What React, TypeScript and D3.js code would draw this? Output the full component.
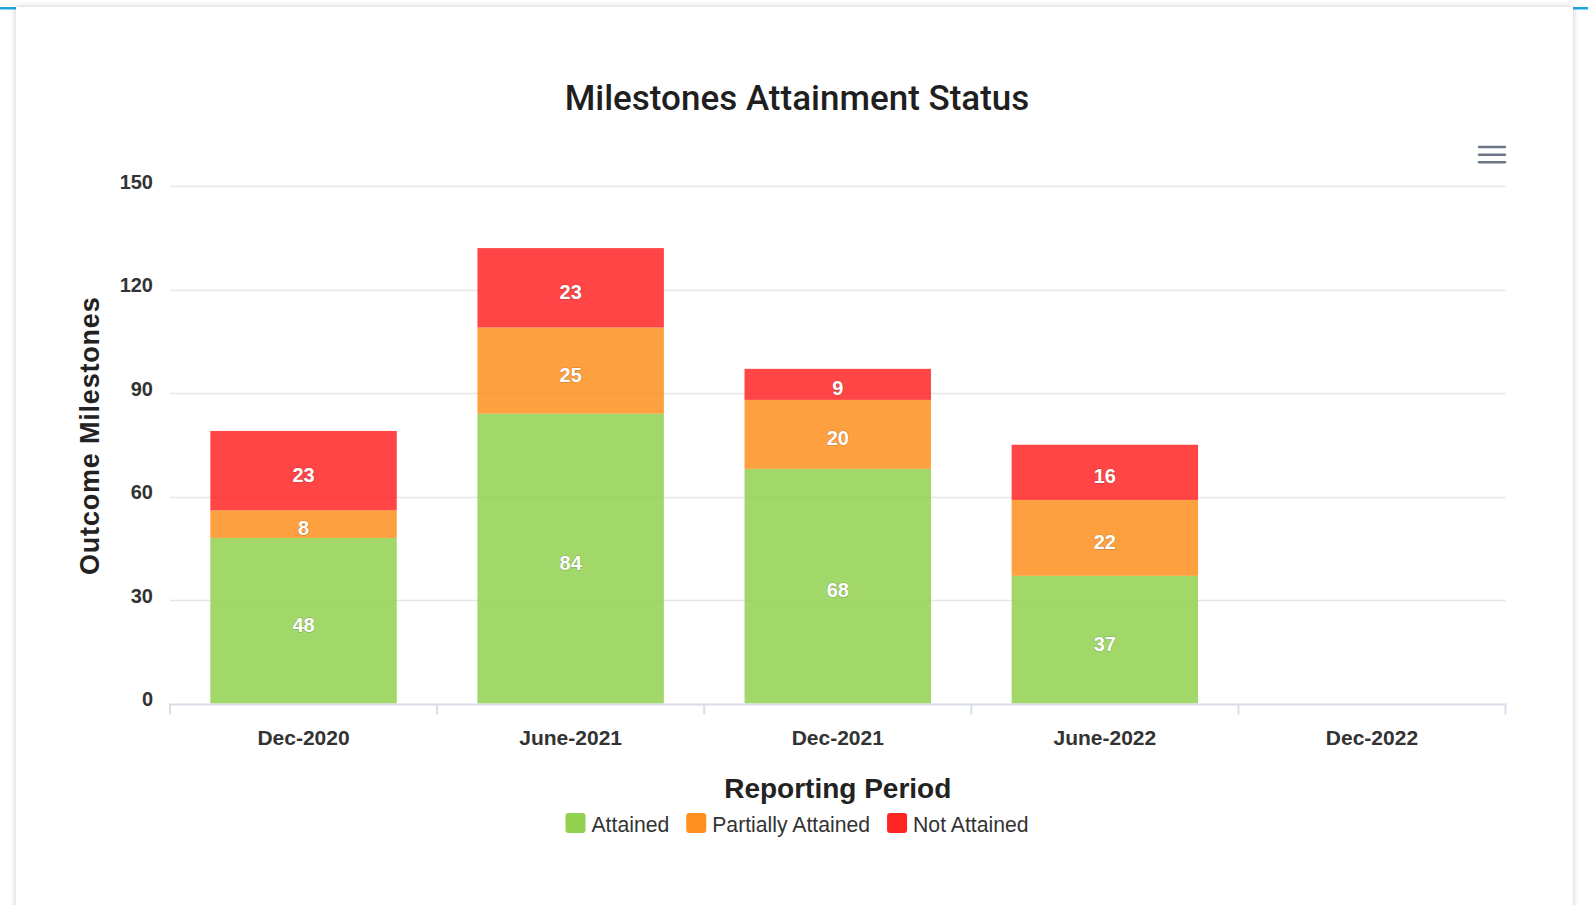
import React, { useEffect, useRef } from "react";
import * as d3 from "d3";

const categories = ["Dec-2020", "June-2021", "Dec-2021", "June-2022", "Dec-2022"];
const attained = [48, 84, 68, 37, null];
const partiallyAttained = [8, 25, 20, 22, null];
const notAttained = [23, 23, 9, 16, null];
const seriesNames = ["Attained", "Partially Attained", "Not Attained"];
const seriesColors = ["#92d050", "#ff8f1e", "#ff2424"];
const yTicks = [0, 30, 60, 90, 120, 150];

const W = 1588;
const H = 905;

export default function App() {
  const ref = useRef<SVGSVGElement | null>(null);

  useEffect(() => {
    const svg = d3.select(ref.current);
    svg.selectAll("*").remove();

    const defs = svg.append("defs");
    const f = defs.append("filter").attr("id", "shadow").attr("x", "-5%").attr("y", "-5%").attr("width", "110%").attr("height", "110%");
    f.append("feDropShadow").attr("dx", 0).attr("dy", 0).attr("stdDeviation", 3).attr("flood-color", "#000").attr("flood-opacity", 0.22);

    // blue lines
    svg.append("rect").attr("x", 0).attr("y", 7).attr("width", 20).attr("height", 2.5).attr("fill", "#1aa7e0");
    svg.append("rect").attr("x", 1568).attr("y", 7).attr("width", 20).attr("height", 2.5).attr("fill", "#1aa7e0");

    // card
    svg.append("rect").attr("x", 16).attr("y", 7).attr("width", 1557).attr("height", 940).attr("fill", "#fff").attr("filter", "url(#shadow)");

    const left = 170, right = 1505.5, top = 186, bottom = 703.5;
    const x = d3.scaleBand<string>().domain(categories).range([left, right]);
    const y = d3.scaleLinear().domain([0, 150]).range([bottom, top]);
    const barW = x.bandwidth() * 0.698;

    const font = "'Liberation Sans', Arial, sans-serif";

    // title
    svg.append("text").attr("x", 797).attr("y", 110).attr("text-anchor", "middle")
      .attr("font-family", "Roboto, sans-serif").attr("font-size", 35).attr("font-weight", 500).attr("fill", "#1f1f1f")
      .text("Milestones Attainment Status");

    // hamburger
    [147, 154.7, 162.3].forEach((yy) => {
      svg.append("line").attr("x1", 1479).attr("x2", 1505).attr("y1", yy).attr("y2", yy)
        .attr("stroke", "#6b7686").attr("stroke-width", 2.4).attr("stroke-linecap", "round");
    });

    // gridlines
    svg.append("g").selectAll("line").data(yTicks.filter((t) => t !== 0)).join("line")
      .attr("x1", left).attr("x2", right)
      .attr("y1", (d) => Math.round(y(d)) + 0.5).attr("y2", (d) => Math.round(y(d)) + 0.5)
      .attr("stroke", "#e6e6e6").attr("stroke-width", 1.5);

    // y labels
    svg.append("g").selectAll("text").data(yTicks).join("text")
      .attr("x", 153).attr("y", (d) => y(d) + 2.5).attr("text-anchor", "end")
      .attr("font-family", font).attr("font-weight", "bold").attr("font-size", 20).attr("fill", "#333")
      .text((d) => String(d));

    // y title
    svg.append("text").attr("transform", `translate(99,${(top + bottom) / 2 - 9}) rotate(-90)`)
      .attr("text-anchor", "middle").attr("font-family", font).attr("font-weight", "bold")
      .attr("font-size", 27).attr("letter-spacing", 0.8).attr("fill", "#222")
      .text("Outcome Milestones");

    // stacks
    const table = categories.map((c, i) => ({ cat: c, vals: [attained[i], partiallyAttained[i], notAttained[i]] }));
    const gBars = svg.append("g");
    const gLabels = svg.append("g");
    table.forEach((row) => {
      let base = 0;
      row.vals.forEach((v, si) => {
        if (v == null) return;
        const cx = (x(row.cat) as number) + x.bandwidth() / 2;
        gBars.append("rect").attr("x", cx - barW / 2).attr("width", barW)
          .attr("y", y(base + v)).attr("height", y(base) - y(base + v))
          .attr("fill", seriesColors[si]).attr("fill-opacity", 0.85);
        gLabels.append("text").attr("x", cx).attr("y", y(base + v / 2) + 11)
          .attr("text-anchor", "middle").attr("font-family", font).attr("font-weight", "bold")
          .attr("font-size", 20).attr("fill", "#fff").attr("stroke", "rgba(0,0,0,0.25)")
          .attr("stroke-width", 1).attr("paint-order", "stroke")
          .text(String(v));
        base += v;
      });
    });

    // x axis
    svg.append("line").attr("x1", left).attr("x2", right).attr("y1", bottom + 1).attr("y2", bottom + 1)
      .attr("stroke", "#d8dde6").attr("stroke-width", 2);
    const bounds = categories.map((c) => x(c) as number).concat([right]);
    svg.append("g").selectAll("line").data(bounds).join("line")
      .attr("x1", (d) => d).attr("x2", (d) => d).attr("y1", bottom).attr("y2", bottom + 11)
      .attr("stroke", "#d8dde6").attr("stroke-width", 2);
    svg.append("g").selectAll("text").data(categories).join("text")
      .attr("x", (d) => (x(d) as number) + x.bandwidth() / 2).attr("y", 745).attr("text-anchor", "middle")
      .attr("font-family", font).attr("font-weight", "bold").attr("font-size", 21).attr("fill", "#333")
      .text((d) => d);

    svg.append("text").attr("x", (left + right) / 2).attr("y", 798).attr("text-anchor", "middle")
      .attr("font-family", font).attr("font-weight", "bold").attr("font-size", 28).attr("fill", "#222")
      .text("Reporting Period");

    // legend
    const lg = svg.append("g");
    let lx = 0;
    seriesNames.forEach((n, i) => {
      const g = lg.append("g").attr("transform", `translate(${lx},0)`);
      g.append("rect").attr("x", 0).attr("y", 813).attr("width", 20).attr("height", 20).attr("rx", 3)
        .attr("fill", seriesColors[i]);
      const t = g.append("text").attr("x", 26).attr("y", 832).attr("font-family", font)
        .attr("font-size", 21.2).attr("fill", "#333").text(n);
      const w = (t.node() as SVGTextElement).getComputedTextLength();
      lx += 26 + w + 17;
    });
    const total = lx - 17;
    lg.attr("transform", `translate(${797 - total / 2},0)`);
  }, []);

  return (
    <div style={{ position: "absolute", left: 0, top: 0 }}>
      <svg ref={ref} width={W} height={H} style={{ display: "block" }} />
    </div>
  );
}
